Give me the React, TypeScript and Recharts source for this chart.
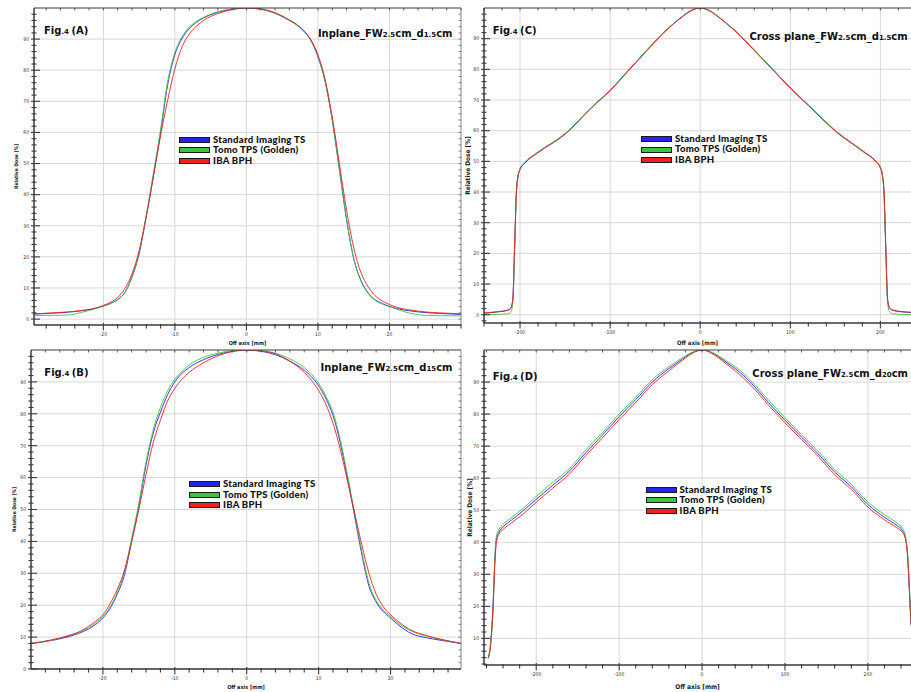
import React from 'react';
import { LineChart, Line, XAxis, YAxis, CartesianGrid, Legend } from 'recharts';

// series shared by all four panels
const seriesNames = ['Standard Imaging TS', 'Tomo TPS (Golden)', 'IBA BPH'];
const seriesKeys = ['blue', 'green', 'red'];
const seriesColors = ['#2424f2', '#3cc43c', '#ee2020'];

// Fig.4 (A) Inplane, d1.5cm
const aX = [-29.7, -27, -25, -23, -21, -20, -19, -18, -17, -16, -15, -14, -13, -12, -11, -10, -9, -8, -7, -6, -4, -2, 0, 2, 4, 6, 7, 8, 9, 10, 11, 12, 13, 14, 15, 16, 17, 18, 19, 20, 21, 23, 25, 27, 30];
const aBlue = [1.6, 1.9, 2.2, 2.7, 3.5, 4.2, 5.0, 6.3, 8.5, 13.5, 21, 33, 46, 60, 75.5, 85, 90.2, 93.4, 95.4, 96.8, 98.6, 99.6, 100, 99.6, 98.3, 96, 94.6, 92.6, 89.6, 84.3, 76.4, 64, 48, 32, 19.5, 12.5, 8.5, 6.2, 5.0, 4.1, 3.4, 2.6, 2.1, 1.8, 1.5];
const aGreen = [1.1, 1.2, 1.3, 2.2, 3.4, 4.2, 5.0, 6.3, 8.6, 13.8, 21.5, 33.5, 47, 61, 76.5, 85.7, 90.8, 93.8, 95.7, 97, 98.8, 99.7, 100, 99.6, 98.3, 96, 94.6, 92.7, 89.8, 84.5, 76.5, 64, 48, 32, 19.5, 12.3, 8.3, 6.0, 4.8, 4.0, 3.2, 1.8, 1.2, 1.1, 1.0];
const aRed = [1.7, 2.0, 2.3, 2.8, 3.6, 4.4, 5.4, 7.0, 9.8, 14.5, 22, 33, 46, 59, 70.5, 80.5, 87.5, 91.6, 94.1, 96, 98.2, 99.5, 100, 99.7, 98.5, 96.2, 94.8, 92.8, 89.8, 85, 77, 65, 50, 35, 23, 15, 10.5, 7.5, 5.8, 4.7, 3.8, 2.9, 2.3, 2.0, 1.7];

// Fig.4 (B) Inplane, d15cm
const bX = [-30, -27, -25, -23, -21, -20, -19, -18, -17, -16, -15, -14, -13, -12, -11, -10, -9, -8, -6, -4, -2, 0, 2, 4, 6, 8, 9, 10, 11, 12, 13, 14, 15, 16, 17, 18, 19, 20, 21, 23, 25, 27, 29.8];
const bBlue = [8, 9, 10, 11.5, 14, 16, 19, 23.5, 29.5, 40, 51, 64, 74, 80.5, 86, 90, 92.7, 94.5, 97, 98.6, 99.6, 100, 99.6, 98.5, 96.5, 93.7, 91.6, 88.8, 84.8, 79.5, 71, 60, 48, 36, 26, 21, 18, 16, 14, 11, 9.8, 9, 8];
const bGreen = [8, 9.1, 10.4, 11.8, 14.5, 16.5, 19.5, 24, 30.5, 41, 52, 65, 75, 82, 87.2, 90.8, 93.3, 95.3, 97.7, 99, 99.8, 100, 99.8, 99, 97.2, 94.5, 92.4, 89.6, 85.5, 80.5, 72, 61, 49, 37, 27, 21.5, 18.5, 16.5, 14.5, 11.8, 10.3, 9.3, 8];
const bRed = [8, 9.2, 10.3, 12, 15, 17, 20.5, 25, 31, 40, 50, 61, 71, 78, 84, 88, 90.8, 93, 96, 98.2, 99.5, 100, 99.7, 98.8, 96.5, 93, 90.5, 87.3, 83, 77, 69, 59, 49, 39, 30, 23.5, 19.5, 17, 15, 12, 10.5, 9.3, 8];

// Fig.4 (C) Cross plane, d1.5cm
const cX = [-240, -225, -213, -210, -208, -206, -204, -202, -200, -195, -180, -150, -120, -100, -80, -60, -40, -30, -20, -10, 0, 10, 20, 30, 40, 60, 80, 100, 120, 150, 180, 195, 200, 202, 204, 206, 208, 210, 213, 225, 234];
const cBlue = [0.5, 0.9, 1.5, 2.3, 5, 22, 40, 45.5, 47.5, 49.5, 53, 59, 67.8, 73.2, 79.6, 86, 92.2, 94.8, 97.2, 99.2, 100, 99.2, 97.2, 94.8, 92.3, 86.3, 80.2, 74, 68.4, 60, 53.5, 50, 48, 46, 40, 22, 5, 2.3, 1.5, 0.9, 0.7];
const cGreen = [0, 0.1, 0.3, 1.0, 4, 21, 39.5, 45.3, 47.4, 49.4, 53, 59, 67.8, 73.2, 79.6, 86, 92.2, 94.8, 97.2, 99.2, 100, 99.2, 97.2, 94.8, 92.3, 86.3, 80.2, 74, 68.4, 60, 53.5, 50, 48, 45.8, 39.5, 21, 4, 1.0, 0.3, 0.1, 0];
const cRed = [0.6, 1.0, 1.6, 2.4, 5.3, 22.5, 40.5, 45.6, 47.4, 49.3, 52.8, 58.8, 67.6, 73, 79.4, 85.8, 92, 94.7, 97.1, 99.1, 100, 99.1, 97.1, 94.7, 92.1, 86.1, 80, 73.8, 68.2, 59.8, 53.3, 49.8, 47.8, 45.8, 40.5, 22.5, 5.3, 2.4, 1.6, 1.0, 0.8];

// Fig.4 (D) Cross plane, d20cm
const dX = [-258, -255, -252, -250, -248, -245, -240, -230, -215, -200, -180, -160, -140, -120, -100, -80, -60, -40, -30, -20, -10, 0, 10, 20, 30, 40, 60, 80, 100, 120, 140, 160, 180, 200, 220, 235, 242, 246, 248, 250, 252];
const dBlue = [3.8, 8.5, 21, 34, 41, 43.2, 44.8, 46.9, 50, 53.4, 57.8, 62.2, 68, 73.5, 79.2, 84.5, 90, 94.2, 96, 97.9, 99.4, 100, 99.4, 97.9, 96, 94.2, 89.5, 83.6, 78.1, 72.8, 67.6, 61.9, 57.3, 51.8, 47.8, 45.2, 43.6, 40.5, 35.5, 25.5, 14.5];
const dGreen = [3.8, 8.5, 19, 34, 42, 44, 45.6, 47.7, 50.8, 54.3, 58.7, 63, 68.9, 74.3, 80, 85.3, 90.7, 94.8, 96.5, 98.2, 99.5, 100, 99.5, 98.2, 96.5, 94.8, 90.2, 84.4, 78.9, 73.6, 68.4, 62.7, 58.1, 52.6, 48.6, 46, 44.3, 41, 36, 26, 15];
const dRed = [3.8, 8, 20, 33, 40, 42.5, 44, 46, 49, 52.5, 56.9, 61.3, 67.1, 72.6, 78.3, 83.6, 89.2, 93.5, 95.5, 97.5, 99.2, 100, 99.2, 97.5, 95.5, 93.5, 88.7, 82.8, 77.3, 72, 66.8, 61.1, 56.5, 51, 47, 44.5, 43, 40, 35, 25, 14];

// tick labels
const mmTicks = [-20, -10, 0, 10, 20];
const wideTicks = [-200, -100, 0, 100, 200];
const doseTicks = [0, 10, 20, 30, 40, 50, 60, 70, 80, 90];
const doseTicksD = [10, 20, 30, 40, 50, 60, 70, 80, 90];

const AXIS = '#3a3a3a';
const GRID = '#d8d8d8';
const SMALL_FONT = "'Liberation Sans Narrow', 'DejaVu Sans Condensed', sans-serif";
const TITLE_FONT = "'DejaVu Sans', sans-serif";

const steps = (from: number, to: number, step: number) => {
  const out: number[] = [];
  for (let v = from; v <= to + 1e-9; v += step) out.push(Math.round(v * 1000) / 1000);
  return out;
};

const BottomTick = (props: any) => {
  const { x, y, payload, majors } = props;
  const major = majors.includes(payload.value);
  return (
    <g>
      <line x1={x} x2={x} y1={y - (major ? 2 : 1)} y2={y + (major ? 5.5 : 3.5)} stroke={AXIS} strokeWidth={1.1} />
      {major && (
        <text x={x} y={y + 11} textAnchor="middle" fontSize={5} fontFamily={SMALL_FONT} fill="#333">
          {payload.value}
        </text>
      )}
    </g>
  );
};

const LeftTick = (props: any) => {
  const { x, y, payload, majors } = props;
  const major = majors.includes(payload.value);
  return (
    <g>
      <line x1={x - (major ? 3 : 2.5)} x2={x + (major ? 6 : 2.5)} y1={y} y2={y} stroke={AXIS} strokeWidth={1.1} />
      {major && (
        <text x={x - 5} y={y + 1.8} textAnchor="end" fontSize={5} fontFamily={SMALL_FONT} fill="#333">
          {payload.value}
        </text>
      )}
    </g>
  );
};

const renderLegend = (props: any) => {
  const items = [...(props.payload || [])].sort(
    (a: any, b: any) => seriesNames.indexOf(a.value) - seriesNames.indexOf(b.value)
  );
  return (
    <div style={{ fontFamily: 'Lato, sans-serif', fontWeight: 900, fontSize: 9.6, color: '#111', lineHeight: '10.5px' }}>
      {items.map((it: any) => (
        <div key={it.value} style={{ display: 'flex', alignItems: 'center', height: 10.5 }}>
          <span style={{ width: 29, height: 4, background: it.color, border: '1px solid #1a1a1a', marginRight: 3, flexShrink: 0 }} />
          <span style={{ whiteSpace: 'nowrap', letterSpacing: 0.25 }}>{it.value}</span>
        </div>
      ))}
    </div>
  );
};

type PanelProps = {
  left: number;
  top: number;
  width: number;
  height: number;
  x: number[];
  blue: number[];
  green: number[];
  red: number[];
  xDomain: [number, number];
  yDomain: [number, number];
  xMajor: number[];
  xMinor: number[];
  yMajor: number[];
  yMinor: number[];
  axisWidth: number;
  bottom: number;
  xTitleOffset: number;
  xTitleSize: number;
  yTitleOffset: number;
  yTitleSize: number;
  right: boolean;
  legend: [number, number];
};

function Panel(p: PanelProps) {
  const data = p.x.map((v, i) => ({ x: v, blue: p.blue[i], green: p.green[i], red: p.red[i] }));
  return (
    <div style={{ position: 'absolute', left: p.left, top: p.top }}>
      <LineChart width={p.width} height={p.height} data={data} margin={{ top: 0, right: 0, bottom: 0, left: 0 }}>
        <CartesianGrid stroke={GRID} horizontalValues={p.yMajor} verticalValues={p.xMajor} />
        <XAxis
          xAxisId="top"
          orientation="top"
          type="number"
          dataKey="x"
          domain={p.xDomain}
          allowDataOverflow
          ticks={p.xMinor}
          interval={0}
          height={8}
          tickSize={0}
          tickMargin={0}
          tickLine={false}
          axisLine={{ stroke: AXIS, strokeWidth: 1 }}
          tick={(t: any) => <line x1={t.x} x2={t.x} y1={t.y} y2={t.y + 2.5} stroke={AXIS} strokeWidth={0.8} />}
        />
        <XAxis
          type="number"
          dataKey="x"
          domain={p.xDomain}
          allowDataOverflow
          ticks={p.xMinor}
          interval={0}
          height={p.bottom}
          tickSize={0}
          tickMargin={0}
          tickLine={false}
          axisLine={{ stroke: AXIS, strokeWidth: 1.5 }}
          tick={(t: any) => <BottomTick {...t} majors={p.xMajor} />}
          label={{
            value: 'Off axis [mm]',
            position: 'insideBottom',
            offset: p.xTitleOffset,
            style: { fontSize: p.xTitleSize, fontFamily: SMALL_FONT, fill: '#222', fontWeight: 700 },
          }}
        />
        <YAxis
          type="number"
          domain={p.yDomain}
          allowDataOverflow
          ticks={p.yMinor}
          interval={0}
          width={p.axisWidth}
          tickSize={0}
          tickMargin={0}
          tickLine={false}
          axisLine={{ stroke: AXIS, strokeWidth: 1.5 }}
          tick={(t: any) => <LeftTick {...t} majors={p.yMajor} />}
          label={{
            value: 'Relative Dose [%]',
            angle: -90,
            position: 'insideLeft',
            offset: p.yTitleOffset,
            style: { textAnchor: 'middle', fontSize: p.yTitleSize, fontFamily: SMALL_FONT, fill: '#222', fontWeight: 700 },
          }}
        />
        {p.right && (
          <YAxis
            yAxisId="right"
            orientation="right"
            type="number"
            domain={p.yDomain}
            allowDataOverflow
            ticks={p.yMinor}
            interval={0}
            width={2}
            tickSize={0}
            tickMargin={0}
            tickLine={false}
            axisLine={{ stroke: '#666', strokeWidth: 0.8 }}
            tick={(t: any) => <line x1={t.x - 2.5} x2={t.x} y1={t.y} y2={t.y} stroke="#666" strokeWidth={0.8} />}
          />
        )}
        <Legend
          layout="horizontal"
          verticalAlign="middle"
          align="center"
          wrapperStyle={{ left: p.legend[0], top: p.legend[1], width: 'auto' }}
          content={renderLegend}
        />
        {seriesKeys.map((k, i) => (
          <Line
            key={k}
            type="monotone"
            dataKey={k}
            name={seriesNames[i]}
            stroke={seriesColors[i]}
            strokeWidth={0.9}
            dot={false}
            isAnimationActive={false}
          />
        ))}
      </LineChart>
    </div>
  );
}

const Caption = ({ x, y, parts, anchor }: { x: number; y: number; parts: [string, boolean][]; anchor: 'start' | 'end' }) => (
  <text x={x} y={y} textAnchor={anchor} fontFamily={TITLE_FONT} fontWeight={700} fill="#111">
    {parts.map(([s, small], i) => (
      <tspan key={i} fontSize={small ? 7 : 10}>
        {s}
      </tspan>
    ))}
  </text>
);

const figParts = (letter: string): [string, boolean][] => [['Fig', false], ['.4 ', true], ['(' + letter + ')', false]];
const titleParts = (plane: string, depth: string): [string, boolean][] => [
  [plane + '_FW', false],
  ['2.5', true],
  ['cm_d', false],
  [depth, true],
  ['cm', false],
];

export default function App() {
  return (
    <div style={{ position: 'absolute', left: 0, top: 0, width: 911, height: 692, background: '#fff', overflow: 'hidden' }}>
      <Panel
        left={0} top={0} width={463} height={350}
        x={aX} blue={aBlue} green={aGreen} red={aRed}
        xDomain={[-29.7, 30]} yDomain={[-1.9, 100]}
        xMajor={mmTicks} xMinor={steps(-28, 30, 2)} yMajor={doseTicks} yMinor={steps(0, 98, 2)}
        axisWidth={34} bottom={25} xTitleOffset={5} xTitleSize={5.5} yTitleOffset={16} yTitleSize={5}
        right legend={[179, 134.5]}
      />
      <Panel
        left={0} top={342} width={463} height={350}
        x={bX} blue={bBlue} green={bGreen} red={bRed}
        xDomain={[-30, 29.8]} yDomain={[0, 100]}
        xMajor={mmTicks} xMinor={steps(-28, 28, 2)} yMajor={doseTicks} yMinor={steps(0, 98, 2)}
        axisWidth={31} bottom={23} xTitleOffset={3} xTitleSize={5.5} yTitleOffset={14} yTitleSize={5}
        right legend={[189, 137]}
      />
      <Panel
        left={452} top={0} width={459} height={350}
        x={cX} blue={cBlue} green={cGreen} red={cRed}
        xDomain={[-240, 234]} yDomain={[-2.7, 100]}
        xMajor={wideTicks} xMinor={steps(-240, 220, 20)} yMajor={doseTicks} yMinor={steps(-2, 98, 2)}
        axisWidth={32} bottom={27} xTitleOffset={5} xTitleSize={6} yTitleOffset={16} yTitleSize={6.5}
        right={false} legend={[189, 133.8]}
      />
      <Panel
        left={452} top={342} width={459} height={350}
        x={dX} blue={dBlue} green={dGreen} red={dRed}
        xDomain={[-263, 252]} yDomain={[1.7, 100]}
        xMajor={wideTicks} xMinor={steps(-260, 240, 20)} yMajor={doseTicksD} yMinor={steps(2, 98, 2)}
        axisWidth={32} bottom={27} xTitleOffset={3} xTitleSize={6.5} yTitleOffset={18} yTitleSize={6.5}
        right={false} legend={[193.5, 142.5]}
      />
      <svg width={911} height={692} style={{ position: 'absolute', left: 0, top: 0, pointerEvents: 'none' }}>
        <Caption x={44} y={34} anchor="start" parts={figParts('A')} />
        <Caption x={452.5} y={37} anchor="end" parts={titleParts('Inplane', '1.5')} />
        <Caption x={44.3} y={376} anchor="start" parts={figParts('B')} />
        <Caption x={452.5} y={371} anchor="end" parts={titleParts('Inplane', '15')} />
        <Caption x={492.7} y={34} anchor="start" parts={figParts('C')} />
        <Caption x={907.7} y={39.5} anchor="end" parts={titleParts('Cross plane', '1.5')} />
        <Caption x={492.7} y={380} anchor="start" parts={figParts('D')} />
        <Caption x={908} y={377} anchor="end" parts={titleParts('Cross plane', '20')} />
      </svg>
    </div>
  );
}
